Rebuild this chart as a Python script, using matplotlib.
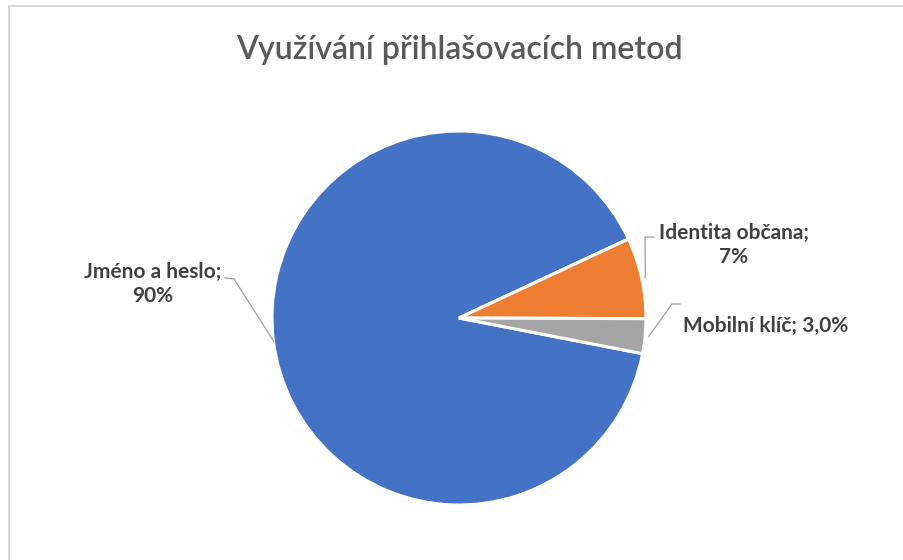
import numpy as np
import matplotlib
matplotlib.use("Agg")
import matplotlib.pyplot as plt
from matplotlib.patches import Rectangle

title = "Využívání přihlašovacích metod"
categories = ["Jméno a heslo", "Identita občana", "Mobilní klíč"]
values = [90.0, 7.0, 3.0]
value_labels = ["90%", "7%", "3,0%"]
colors = ["#4472C4", "#ED7D31", "#A5A5A5"]

W, H = 904, 560
fig = plt.figure(figsize=(W / 100, H / 100), dpi=100)
fig.patch.set_facecolor("white")

# chart border
fig.add_artist(Rectangle((9 / W, -0.05), 1.2, 1.05 - 6 / H, transform=fig.transFigure,
                         fill=False, edgecolor="#d0d0d0", linewidth=1.2))

cx, cy, R = 459, 318, 187
ax = fig.add_axes([(cx - R) / W, (H - cy - R) / H, 2 * R / W, 2 * R / H])

start = 360 - values[-1] / sum(values) * 360 - 0.2
wedges, _ = ax.pie(values, colors=colors, startangle=start, counterclock=False, radius=1,
                   wedgeprops=dict(edgecolor="white", linewidth=2.2))
ax.set_xlim(-1, 1)
ax.set_ylim(-1, 1)
ax.set_aspect("equal")
ax.axis("off")

lab_color = "#404040"
lfont = dict(family=["Lato", "DejaVu Sans"], fontsize=15, fontweight="bold", color=lab_color)
line_kw = dict(color="#a6a6a6", linewidth=1.0, clip_on=False)

def px(x, y):
    return ((x - cx) / R, (cy - y) / R)

mids = [np.deg2rad((w.theta1 + w.theta2) / 2) for w in wedges]

# Jméno a heslo
m = mids[0]
p0 = (np.cos(m), np.sin(m))
e1 = px(234, 279)
e2 = px(225, 278)
ax.plot([p0[0], e1[0], e2[0]], [p0[1], e1[1], e2[1]], **line_kw)
tx, ty = px(153, 284)
ax.text(tx, ty, f"{categories[0]};\n{value_labels[0]}", ha="center", va="center",
        linespacing=1.3, **lfont)

# Identita občana
m = mids[1]
p0 = (np.cos(m), np.sin(m))
e1 = px(645, 237)
e2 = px(654, 237)
ax.plot([p0[0] + 0.02, e1[0], e2[0]], [p0[1], e1[1], e2[1]], **line_kw)
tx, ty = px(734, 245)
ax.text(tx, ty, f"{categories[1]};\n{value_labels[1]}", ha="center", va="center",
        linespacing=1.3, **lfont)

# Mobilní klíč
m = mids[2]
p0 = (np.cos(m), np.sin(m))
e1 = px(672, 304)
e2 = px(680, 304)
ax.plot([p0[0] + 0.02, e1[0], e2[0]], [p0[1], e1[1], e2[1]], **line_kw)
tx, ty = px(683, 326)
ax.text(tx, ty, f"{categories[2]}; {value_labels[2]}", ha="left", va="center", **lfont)

fig.text(459 / W, 1 - 50 / H, title, ha="center", va="center",
         family=["Lato", "DejaVu Sans"], fontsize=23, fontweight="semibold", color="#595959")

fig.savefig("out.png", dpi=100, facecolor="white")
